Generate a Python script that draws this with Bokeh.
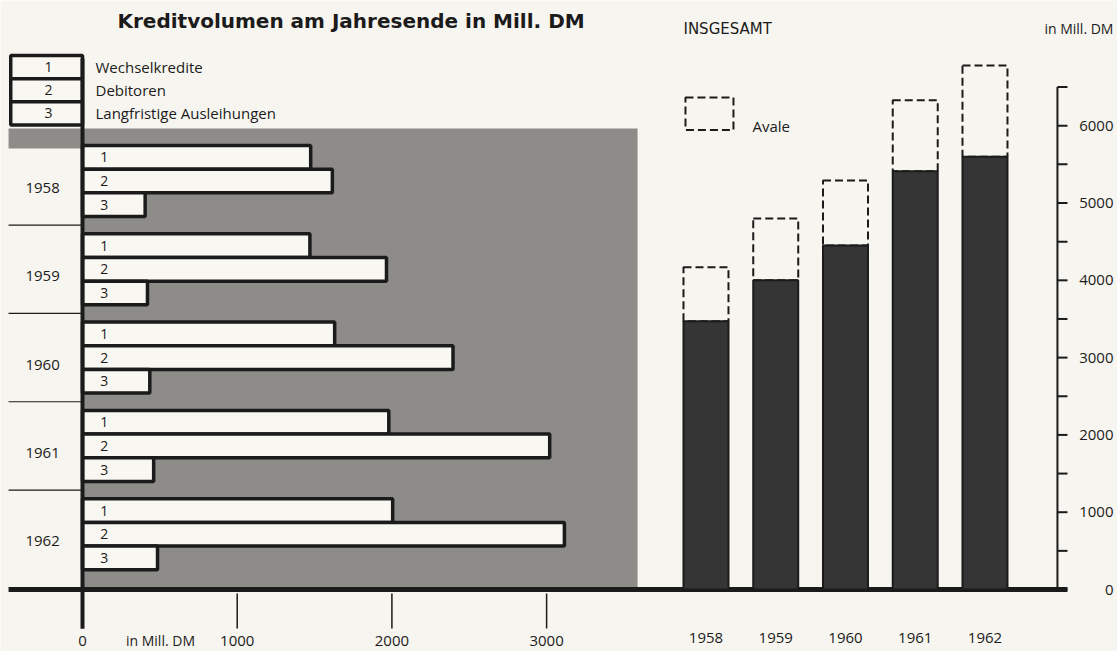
from bokeh.plotting import figure
from bokeh.models import Range1d, ColumnDataSource
from bokeh.core.properties import value
from bokeh.embed import file_html
from bokeh.resources import INLINE

# ---------------- data ----------------
years = ["1958", "1959", "1960", "1961", "1962"]
series_nums = ["1", "2", "3"]
series_names = ["Wechselkredite", "Debitoren", "Langfristige Ausleihungen"]
wechselkredite = [1475, 1470, 1630, 1980, 2005]
debitoren = [1615, 1965, 2395, 3020, 3115]
langfristige = [405, 420, 435, 460, 485]
kredit_insgesamt = [3470, 4000, 4450, 5410, 5600]
avale = [700, 800, 840, 920, 1180]
left_ticks = [0, 1000, 2000, 3000]
right_ticks = [0, 1000, 2000, 3000, 4000, 5000, 6000]
right_minor_ticks = [500, 1500, 2500, 3500, 4500, 5500, 6500]

# ---------------- style ----------------
PAPER = "#f7f5ef"
GRAY = "#8d8c89"
DARK = "#353535"
INK = "#1b1b1b"
LIGHT = "#f9f7f2"
FONT = value("Open Sans")
FS = "15px"
BAR_PITCH = 0.268

p = figure(width=1117, height=651,
           x_range=Range1d(-530.1, 6690.4), y_range=Range1d(-802, 7620),
           output_backend="svg", toolbar_location=None,
           x_axis_location=None, y_axis_location=None,
           min_border=0,
           background_fill_color=PAPER, border_fill_color=PAPER, outline_line_color=None)
p.grid.visible = False
p.extra_y_ranges = {"ry": Range1d(5.328, -2.044)}   # rows of the left chart (downwards)
p.extra_x_ranges = {"rx": Range1d(-10.115, 5.900)}  # year slots of the right chart


def txt(x, y, text, align="left", font=FONT, size=FS, style="normal", **kw):
    p.text(x=x, y=y, text=text, text_font=font, text_font_size=size,
           text_font_style=style, text_color=INK, text_align=align,
           text_baseline="middle", **kw)


# gray field of the left chart
p.quad(left=[0], right=[3588], top=[-0.595], bottom=[4.626], y_range_name="ry",
       fill_color=GRAY, line_color=None)
p.quad(left=[-478], right=[0], top=[-0.595], bottom=[-0.368], y_range_name="ry",
       fill_color=GRAY, line_color=None)

# left bars
all_series = [wechselkredite, debitoren, langfristige]
bar_val, bar_top, bar_bot, bar_c, bar_num = [], [], [], [], []
for i, _ in enumerate(years):
    for j, ser in enumerate(all_series):
        c = i + (j - 1) * BAR_PITCH
        bar_val.append(ser[i])
        bar_top.append(c - BAR_PITCH / 2)
        bar_bot.append(c + BAR_PITCH / 2)
        bar_c.append(c)
        bar_num.append(series_nums[j])
src = ColumnDataSource(dict(val=bar_val, top=bar_top, bot=bar_bot, c=bar_c, num=bar_num,
                            zero=[0] * len(bar_val)))
p.quad(left="zero", right="val", top="top", bottom="bot", source=src, y_range_name="ry",
       fill_color=LIGHT, line_color=INK, line_width=3.5)
p.text(x=115, y="c", text="num", source=src, y_range_name="ry",
       text_font=FONT, text_font_size="14px", text_color=INK,
       text_align="left", text_baseline="middle")

# year labels and separators on the left
txt(-258, [i + 0.08 for i in range(len(years))], years, align="center", y_range_name="ry")
p.segment(x0=-478, x1=0, y0=[i + 0.5 for i in range(len(years) - 1)],
          y1=[i + 0.5 for i in range(len(years) - 1)], y_range_name="ry",
          line_color=INK, line_width=1.2)

# legend (left)
leg_c = [-1.29 + k * 0.262 for k in range(3)]
p.quad(left=-464, right=0, top=[c - 0.131 for c in leg_c], bottom=[c + 0.131 for c in leg_c],
       y_range_name="ry", fill_color=LIGHT, line_color=INK, line_width=3.5)
txt(-220, leg_c, series_nums, align="center", size="14px", y_range_name="ry")
txt(84, leg_c, series_names, size="15px", y_range_name="ry")

# vertical zero line (left)
p.segment(x0=[0], x1=[0], y0=[-1.387], y1=[5.07], y_range_name="ry",
          line_color=INK, line_width=4)

# baseline
p.segment(x0=[-478], x1=[6367], y0=[0], y1=[0], line_color=INK, line_width=5)

# left x ticks
tk = [t for t in left_ticks if t > 0]
p.segment(x0=tk, x1=tk, y0=-52, y1=-504, line_color=INK, line_width=1.5)
txt(left_ticks, -660, [str(t) for t in left_ticks], align="center")
txt([504], [-660], ["in Mill. DM"], align="center", size="14px")

# right chart: totals with Avale
idx = list(range(len(years)))
hw = 0.3225
p.quad(left=[i - hw for i in idx], right=[i + hw for i in idx],
       bottom=kredit_insgesamt, top=[k + a for k, a in zip(kredit_insgesamt, avale)],
       x_range_name="rx", fill_color=PAPER, line_color=INK, line_width=2, line_dash="8 4")
p.quad(left=[i - hw for i in idx], right=[i + hw for i in idx],
       bottom=0, top=kredit_insgesamt,
       x_range_name="rx", fill_color=DARK, line_color=INK, line_width=2)
txt(idx, -621, years, align="center", x_range_name="rx")

# Avale legend
p.quad(left=[-0.294], right=[0.394], top=[6365], bottom=[5945], x_range_name="rx",
       fill_color=PAPER, line_color=INK, line_width=2, line_dash="8 4")
txt([0.667], [5990], ["Avale"], x_range_name="rx")

# right value axis (drawn with the right chart's scales)
AX_X, TICK_END, LABEL_X = 5.039, 5.183, 5.842
p.segment(x0=[AX_X], x1=[AX_X], y0=[0], y1=[right_minor_ticks[-1]], x_range_name="rx",
          line_color=INK, line_width=2)
all_ticks = right_ticks + right_minor_ticks
p.segment(x0=AX_X, x1=TICK_END, y0=all_ticks, y1=all_ticks, x_range_name="rx",
          line_color=INK, line_width=2)
txt(LABEL_X, right_ticks, [str(t) for t in right_ticks], align="right", x_range_name="rx")
txt([LABEL_X], [7257], ["in Mill. DM"], align="right", size="14px", x_range_name="rx")

# titles
txt([226], [7361], ["Kreditvolumen am Jahresende in Mill. DM"],
    font=value("DejaVu Sans"), size="20px", style="bold")
txt([-0.323], [7257], ["INSGESAMT"], font=value("DejaVu Sans"), size="15px",
    x_range_name="rx")

open("out.html", "w").write(file_html(p, INLINE))
